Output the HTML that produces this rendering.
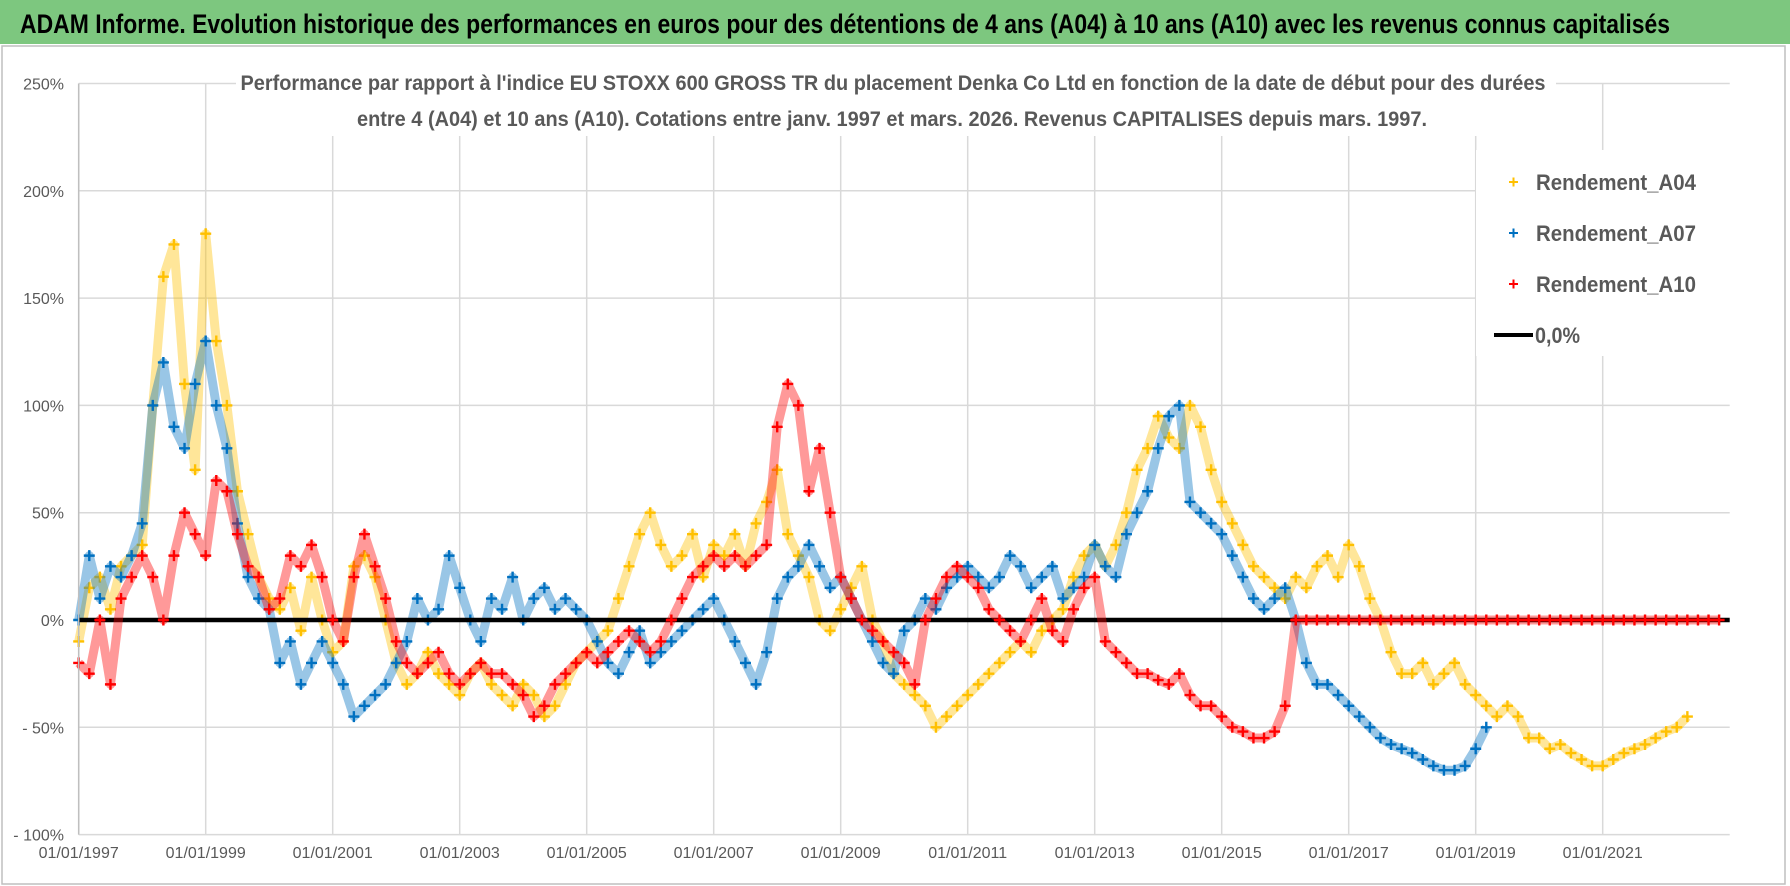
<!DOCTYPE html>
<html><head><meta charset="utf-8">
<style>
html,body{margin:0;padding:0;background:#fff;}
svg{display:block;font-family:"Liberation Sans",sans-serif;}
</style></head>
<body>
<svg id="chart" width="1790" height="886" viewBox="0 0 1790 886" xmlns="http://www.w3.org/2000/svg">
<rect x="0" y="0" width="1790" height="886" fill="#fff"/>
<rect x="0" y="0" width="1790" height="44" fill="#7dc77f"/>
<text x="20" y="33" font-size="27" font-weight="bold" fill="#000" textLength="1650" lengthAdjust="spacingAndGlyphs">ADAM Informe. Evolution historique des performances en euros pour des détentions de 4 ans (A04) à 10 ans (A10) avec les revenus connus capitalisés</text>
<rect x="2" y="46" width="1783" height="838" fill="none" stroke="#bfbfbf" stroke-width="1.5"/>
<g id="grid"></g>
<g id="series"></g>
<g id="axes"></g>
<rect x="236" y="62" width="1320" height="74" fill="#fff"/>
<text x="893" y="90" font-size="21" font-weight="bold" fill="#595959" text-anchor="middle" textLength="1305" lengthAdjust="spacingAndGlyphs">Performance par rapport à l'indice EU STOXX 600 GROSS TR  du placement Denka Co Ltd en fonction de la date de début pour des durées</text>
<text x="892" y="126" font-size="21" font-weight="bold" fill="#595959" text-anchor="middle" textLength="1070" lengthAdjust="spacingAndGlyphs">entre 4 (A04) et 10 ans (A10).  Cotations entre janv. 1997 et mars. 2026.  Revenus CAPITALISES depuis mars. 1997.</text>
<g>
<rect x="1476" y="150" width="260" height="206" fill="#fff"/>
<g><path d="M1509 182h9M1513.5 177.5v9" stroke="#FFC000" stroke-width="2"/><text x="1536" y="190" font-size="22" font-weight="bold" fill="#595959" textLength="160" lengthAdjust="spacingAndGlyphs">Rendement_A04</text></g>
<g><path d="M1509 233h9M1513.5 228.5v9" stroke="#0070C0" stroke-width="2"/><text x="1536" y="241" font-size="22" font-weight="bold" fill="#595959" textLength="160" lengthAdjust="spacingAndGlyphs">Rendement_A07</text></g>
<g><path d="M1509 284h9M1513.5 279.5v9" stroke="#FF0000" stroke-width="2"/><text x="1536" y="292" font-size="22" font-weight="bold" fill="#595959" textLength="160" lengthAdjust="spacingAndGlyphs">Rendement_A10</text></g>
<g><line x1="1494" y1="335" x2="1533" y2="335" stroke="#000" stroke-width="4"/><text x="1535" y="343" font-size="22" font-weight="bold" fill="#595959" textLength="45" lengthAdjust="spacingAndGlyphs">0,0%</text></g>
</g>
</svg>
<script>
const yTicks = [250, 200, 150, 100, 50, 0, -50, -100];
const yTickLabels = ["250%", "200%", "150%", "100%", "50%", "0%", "- 50%", "- 100%"];
const xTickYears = [1997, 1999, 2001, 2003, 2005, 2007, 2009, 2011, 2013, 2015, 2017, 2019, 2021];
const xTickLabels = ["01/01/1997","01/01/1999","01/01/2001","01/01/2003","01/01/2005","01/01/2007","01/01/2009","01/01/2011","01/01/2013","01/01/2015","01/01/2017","01/01/2019","01/01/2021"];
const startYear = 1997;
const stepYears = 1/6;
const rendementA04 = [
-10,15,20,5,25,30, 35,100,160,175,110,70, 180,130,100,60,40,20, 10,5,15,-5,20,0,
-15,-10,25,30,20,0, -20,-30,-25,-15,-25,-30, -35,-25,-20,-30,-35,-40, -30,-35,-45,-40,-30,-20,
-15,-10,-5,10,25,40, 50,35,25,30,40,20, 35,30,40,25,45,55, 70,40,30,20,0,-5,
5,15,25,0,-10,-25, -30,-35,-40,-50,-45,-40, -35,-30,-25,-20,-15,-10, -15,-5,0,5,20,30,
35,25,35,50,70,80, 95,85,80,100,90,70, 55,45,35,25,20,15, 10,20,15,25,30,20,
35,25,10,0,-15,-25, -25,-20,-30,-25,-20,-30, -35,-40,-45,-40,-45,-55, -55,-60,-58,-62,-65,-68,
-68,-65,-62,-60,-58,-55, -52,-50,-45];
const rendementA07 = [
0,30,10,25,20,30, 45,100,120,90,80,110, 130,100,80,45,20,10, 5,-20,-10,-30,-20,-10,
-20,-30,-45,-40,-35,-30, -20,-10,10,0,5,30, 15,0,-10,10,5,20, 0,10,15,5,10,5,
0,-10,-20,-25,-15,-5, -20,-15,-10,-5,0,5, 10,0,-10,-20,-30,-15, 10,20,25,35,25,15,
20,10,0,-10,-20,-25, -5,0,10,5,15,20, 25,20,15,20,30,25, 15,20,25,10,15,20,
35,25,20,40,50,60, 80,95,100,55,50,45, 40,30,20,10,5,10, 15,0,-20,-30,-30,-35,
-40,-45,-50,-55,-58,-60, -62,-65,-68,-70,-70,-68, -60,-50];
const rendementA10 = [
-20,-25,0,-30,10,20, 30,20,0,30,50,40, 30,65,60,40,25,20, 5,10,30,25,35,20,
0,-10,20,40,25,10, -10,-20,-25,-20,-15,-25, -30,-25,-20,-25,-25,-30, -35,-45,-40,-30,-25,-20,
-15,-20,-15,-10,-5,-10, -15,-10,0,10,20,25, 30,25,30,25,30,35, 90,110,100,60,80,50,
20,10,0,-5,-10,-15, -20,-30,0,10,20,25, 20,15,5,0,-5,-10, 0,10,-5,-10,5,15,
20,-10,-15,-20,-25,-25, -28,-30,-25,-35,-40,-40, -45,-50,-52,-55,-55,-52, -40,
0,0,0,0,0, 0,0,0,0,0,0, 0,0,0,0,0,0, 0,0,0,0,0,0, 0,0,0,0,0,0, 0,0,0,0,0,0, 0,0,0,0,0,0];
const zeroLine = [0, 0];

const NS = "http://www.w3.org/2000/svg";
const X0 = 78.7, PXY = 63.5, Y0 = 620, PXP = 107.3/50;
function xScale(year){ return X0 + (year - startYear) * PXY; }
function yScale(v){ return Y0 - v * PXP; }
function mk(tag, attrs, parent){ const e = document.createElementNS(NS, tag); for (const k in attrs) e.setAttribute(k, attrs[k]); parent.appendChild(e); return e; }

const grid = document.getElementById('grid');
const axes = document.getElementById('axes');
const series = document.getElementById('series');
const plotRight = xScale(2023);

yTicks.forEach((v, i) => {
  const l = mk('line', {x1: X0, x2: plotRight, y1: yScale(v), y2: yScale(v), stroke: '#d9d9d9', 'stroke-width': 1.5}, grid);
  
  
  const t = mk('text', {x: 64, y: yScale(v) + 6, 'font-size': 16, fill: '#595959', 'text-anchor': 'end'}, axes);
  t.textContent = yTickLabels[i];
  
  
});
xTickYears.forEach((yr, i) => {
  const l = mk('line', {x1: xScale(yr), x2: xScale(yr), y1: yScale(250), y2: yScale(-100), stroke: '#d9d9d9', 'stroke-width': 1.5}, grid);
  
  
  const t = mk('text', {x: xScale(yr), y: 858, 'font-size': 16, fill: '#595959', 'text-anchor': 'middle'}, axes);
  t.textContent = xTickLabels[i];
  
  
});
const ax = mk('line', {x1: X0, x2: X0, y1: yScale(250), y2: yScale(-100), stroke: '#bfbfbf', 'stroke-width': 1.5}, axes);



function drawSeries(values, color, name){
  const g = mk('g', {}, series);
  
  
  const pts = values.map((v, i) => xScale(startYear + i * stepYears).toFixed(1) + ',' + yScale(v).toFixed(1)).join(' ');
  mk('polyline', {points: pts, fill: 'none', stroke: color, 'stroke-width': 9, 'stroke-opacity': 0.4, 'stroke-linejoin': 'round'}, g);
  values.forEach((v, i) => {
    const x = xScale(startYear + i * stepYears), y = yScale(v);
    const p = mk('path', {d: `M${x-5.5} ${y}h11M${x} ${y-5.5}v11`, stroke: color, 'stroke-width': 2.4}, g);
    
    
  });
}
drawSeries(rendementA04, '#FFC000', 'series-a04');
drawSeries(rendementA07, '#0070C0', 'series-a07');
const zl = mk('line', {x1: X0, x2: plotRight, y1: yScale(zeroLine[0]), y2: yScale(zeroLine[1]), stroke: '#000', 'stroke-width': 4.5}, series);


drawSeries(rendementA10, '#FF0000', 'series-a10');
</script>
</body></html>
